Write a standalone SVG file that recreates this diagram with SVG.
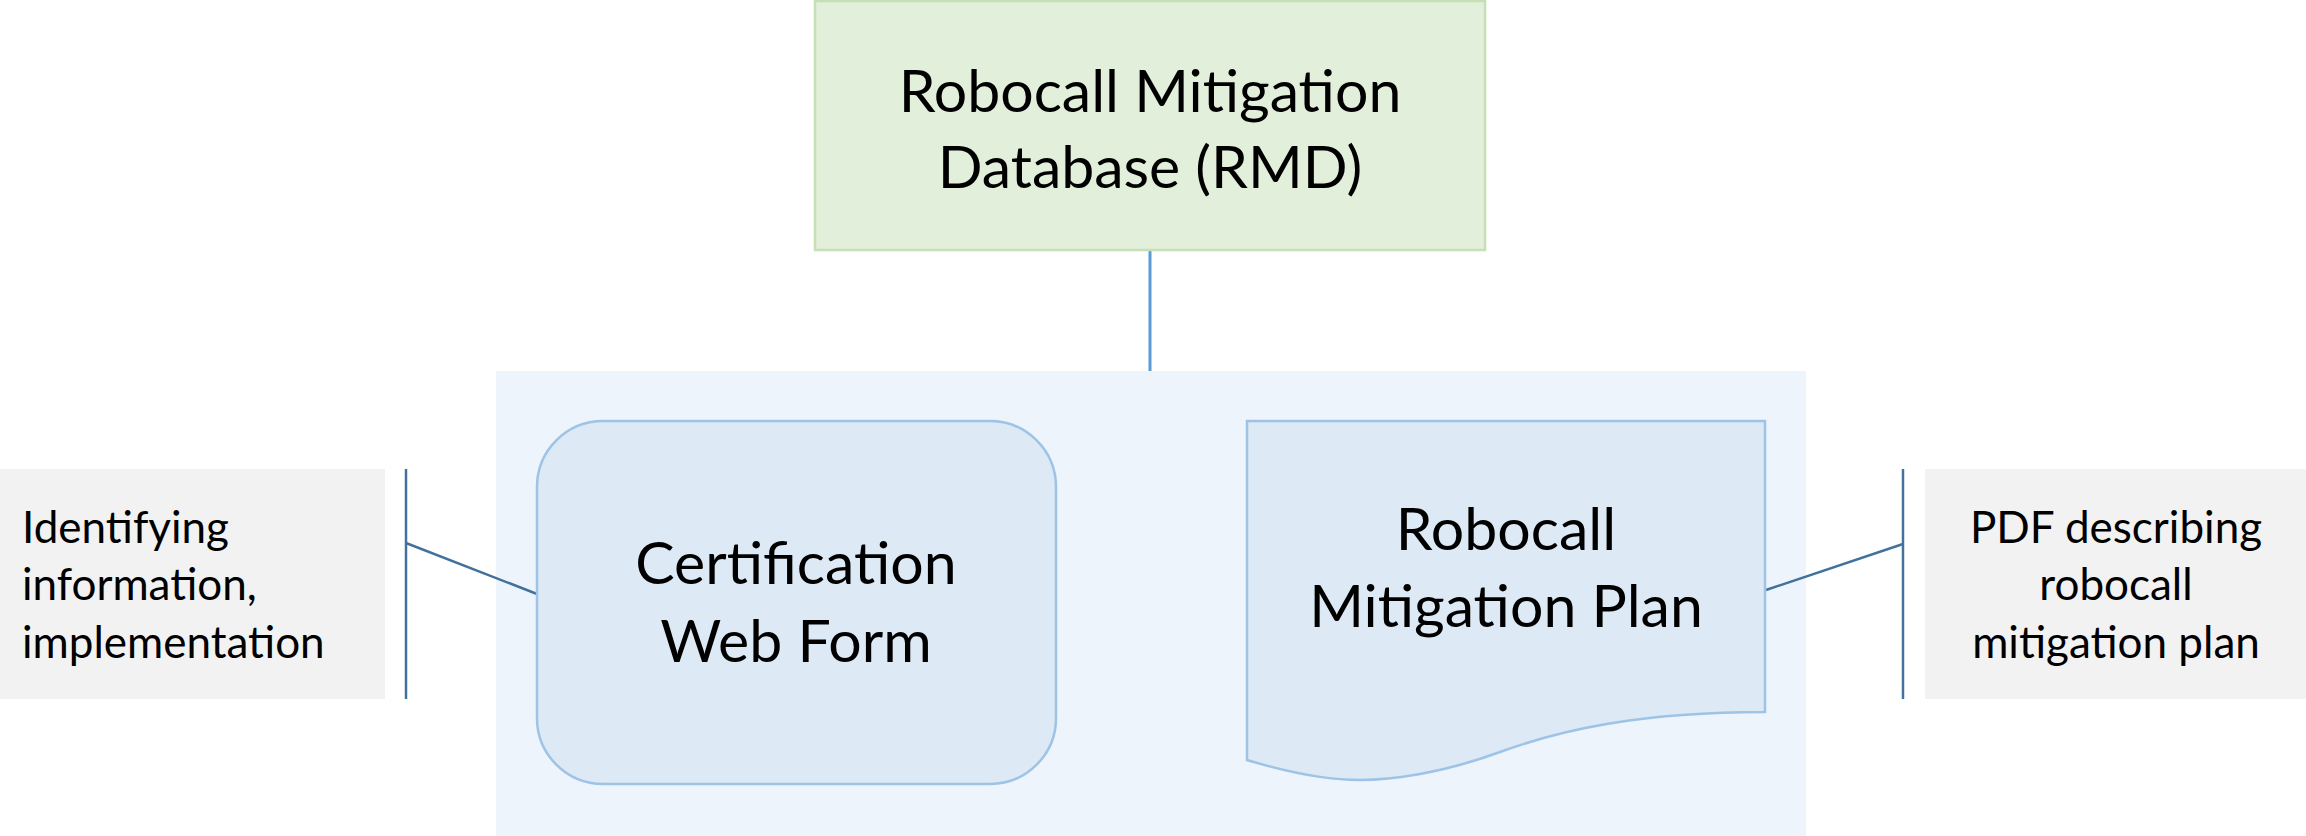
<svg xmlns="http://www.w3.org/2000/svg" width="2306" height="836" viewBox="0 0 2306 836">
  <style>
    text { font-family: Lato, "Open Sans", "Liberation Sans", sans-serif; fill: #000000; }
    .big { font-size: 59px; text-anchor: middle; }
    .note { font-size: 44px; }
    .mid { text-anchor: middle; }
    .shape { fill: #dde9f5; stroke: #9dc3e6; stroke-width: 2.5; }
    .note-bg { fill: #f2f2f2; }
    .bracket { fill: none; stroke: #41719c; stroke-width: 2.5; }
  </style>

  <rect width="2306" height="836" fill="#ffffff"/>

  <!-- container holding the two submission items -->
  <g id="submission-group">
    <rect x="496" y="371" width="1310" height="465" fill="#edf4fb"/>
  </g>

  <g id="connectors">
    <line x1="1150" y1="250" x2="1150" y2="371" stroke="#5b9bd5" stroke-width="3"/>
    <!-- left annotation bracket -->
    <line class="bracket" x1="406" y1="469" x2="406" y2="699"/>
    <line class="bracket" x1="406" y1="543" x2="537" y2="594"/>
    <!-- right annotation bracket -->
    <line class="bracket" x1="1903" y1="469" x2="1903" y2="699"/>
    <line class="bracket" x1="1903" y1="544" x2="1766" y2="590"/>
  </g>

  <g id="rmd">
    <rect x="815" y="1" width="670" height="249" fill="#e2efda" stroke="#c5e0b4" stroke-width="2.5"/>
    <text class="big" x="1150" y="112">Robocall Mitigation</text>
    <text class="big" x="1150" y="188">Database (RMD)</text>
  </g>

  <g id="web-form">
    <rect class="shape" x="537" y="421" width="519" height="363" rx="66" ry="66"/>
    <text class="big" x="796" y="584">Certification</text>
    <text class="big" x="796" y="662">Web Form</text>
  </g>

  <g id="mitigation-plan">
    <path class="shape" d="M1247 421 H1765 V712 C1640 712 1560 730 1500 752 C1440 774 1390 780 1360 780 C1320 780 1280 770 1247 760 Z"/>
    <text class="big" x="1506" y="550">Robocall</text>
    <text class="big" x="1506" y="627">Mitigation Plan</text>
  </g>

  <g id="note-left">
    <rect class="note-bg" x="0" y="469" width="385" height="230"/>
    <text class="note" x="22" y="543">Identifying</text>
    <text class="note" x="22" y="600">information,</text>
    <text class="note" x="22" y="658">implementation</text>
  </g>

  <g id="note-right">
    <rect class="note-bg" x="1925" y="469" width="381" height="230"/>
    <text class="note mid" x="2116" y="543">PDF describing</text>
    <text class="note mid" x="2116" y="600">robocall</text>
    <text class="note mid" x="2116" y="658">mitigation plan</text>
  </g>
</svg>
